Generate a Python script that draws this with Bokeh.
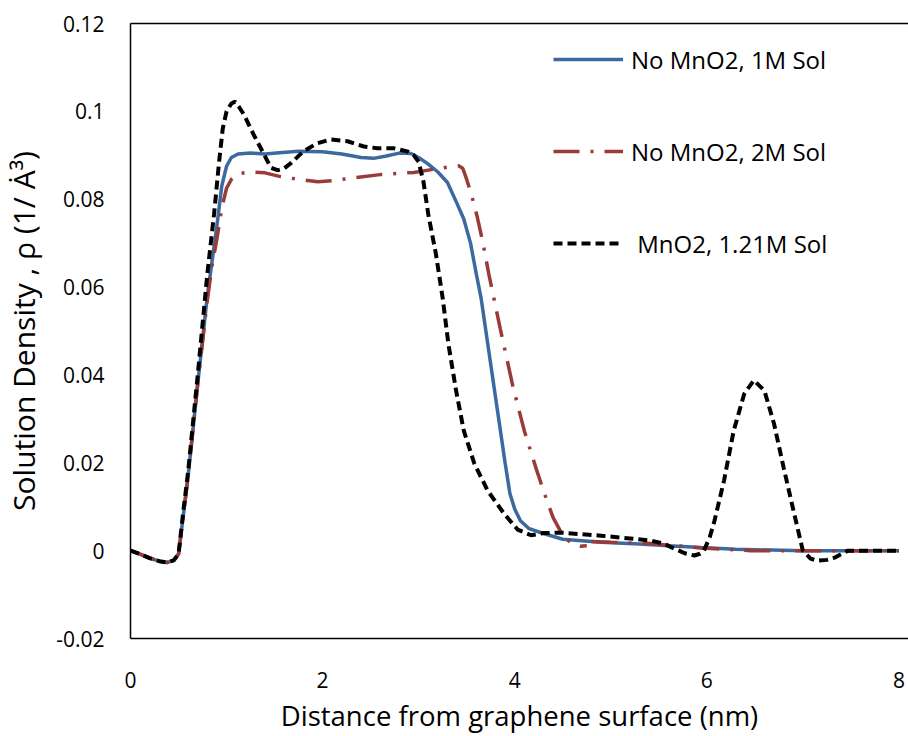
from bokeh.plotting import figure
from bokeh.models import (Range1d, LinearAxis, FixedTicker, Legend, LegendItem)
from bokeh.embed import file_html
from bokeh.resources import INLINE
import numpy as np

# ---------------- data ----------------
x_ticks = [0, 2, 4, 6, 8]
x_tick_labels = ["0", "2", "4", "6", "8"]
y_ticks = [-0.02, 0.0, 0.02, 0.04, 0.06, 0.08, 0.1, 0.12]
y_tick_labels = ["-0.02", "0", "0.02", "0.04", "0.06", "0.08", "0.1", "0.12"]

series_names = ["No MnO2, 1M Sol", "No MnO2, 2M Sol", " MnO2, 1.21M Sol"]

blue_x = [0, 0.1, 0.2, 0.3, 0.38, 0.45, 0.5, 0.55, 0.6, 0.7, 0.8, 0.85, 0.9, 0.95,
          1.0, 1.05, 1.12, 1.25, 1.4, 1.55, 1.75, 2.0, 2.2, 2.4, 2.53, 2.65, 2.8,
          2.92, 3.0, 3.1, 3.2, 3.3, 3.4, 3.47, 3.54, 3.6, 3.65, 3.7, 3.75, 3.8,
          3.85, 3.9, 3.95, 4.0, 4.06, 4.15, 4.3, 4.5, 4.9, 5.3, 5.6, 5.94, 6.3,
          7.0, 7.5, 8.0]
blue_y = [0, -0.0008, -0.0017, -0.0024, -0.0027, -0.0022, -0.0008, 0.008, 0.017,
          0.038, 0.058, 0.066, 0.074, 0.083, 0.0875, 0.0895, 0.0903, 0.0905,
          0.0903, 0.0906, 0.0909, 0.0908, 0.0903, 0.0895, 0.0893, 0.0898, 0.0905,
          0.0904, 0.0895, 0.088, 0.0862, 0.0838, 0.079, 0.0755, 0.070, 0.063,
          0.0575, 0.050, 0.0425, 0.035, 0.0275, 0.020, 0.013, 0.0095, 0.0068,
          0.005, 0.0039, 0.0026, 0.0019, 0.0015, 0.0011, 0.0007, 0.0003, 0.0,
          0.0, 0.0]

red_x = [0, 0.1, 0.2, 0.3, 0.38, 0.45, 0.5, 0.55, 0.6, 0.7, 0.8, 0.85, 0.9, 0.95,
         1.0, 1.05, 1.12, 1.25, 1.4, 1.55, 1.75, 1.95, 2.1, 2.3, 2.6, 2.95, 3.15,
         3.3, 3.42, 3.46, 3.5, 3.55, 3.61, 3.67, 3.73, 3.85, 3.98, 4.1, 4.22, 4.3,
         4.4, 4.5, 4.6, 4.68, 4.75, np.nan, 4.8, 5.0, 5.42, 5.94, 6.46, 7.0, 8.0]
red_y = [0, -0.0008, -0.0017, -0.0024, -0.0027, -0.0022, -0.0008, 0.008, 0.017,
         0.038, 0.057, 0.065, 0.071, 0.078, 0.0825, 0.0845, 0.0858, 0.0862, 0.086,
         0.0852, 0.0845, 0.0840, 0.0842, 0.0848, 0.0856, 0.0861, 0.0868, 0.0873,
         0.0876, 0.087, 0.0845, 0.081, 0.076, 0.070, 0.063, 0.0505, 0.0375,
         0.0273, 0.0189, 0.0136, 0.0075, 0.0035, 0.0015, 0.0010, 0.0011, np.nan,
         0.0021, 0.0019, 0.0016, 0.0006, 0.0, 0.0, 0.0]

black_x = [0, 0.1, 0.2, 0.3, 0.38, 0.45, 0.5, 0.55, 0.6, 0.7, 0.8, 0.87, 0.92, 0.96,
           1.0, 1.05, 1.09, 1.13, 1.18, 1.28, 1.39, 1.46, 1.53, 1.6, 1.67, 1.8,
           1.94, 2.08, 2.26, 2.43, 2.57, 2.74, 2.88, 2.95, 3.0, 3.05, 3.1, 3.18,
           3.25, 3.31, 3.39, 3.47, 3.58, 3.72, 3.89, 4.03, 4.17, 4.3, 4.48, 4.9,
           5.42, 5.55, 5.66, 5.77, 5.87, 5.93, 5.97, 6.03, 6.08, 6.18, 6.28, 6.39,
           6.49, 6.6, 6.7, 6.8, 6.91, 7.0, 7.08, 7.15, 7.25, 7.33, 7.47, 8.0]
black_y = [0, -0.0008, -0.0017, -0.0024, -0.0027, -0.0022, -0.0008, 0.009, 0.018,
           0.040, 0.063, 0.0766, 0.088, 0.096, 0.100, 0.1018, 0.1022, 0.101,
           0.0993, 0.0948, 0.0902, 0.0872, 0.0866, 0.0870, 0.0882, 0.0909, 0.0927,
           0.0936, 0.0932, 0.092, 0.0916, 0.0916, 0.0909, 0.0900, 0.0885, 0.084,
           0.0766, 0.0675, 0.0575, 0.047, 0.0364, 0.0273, 0.0198, 0.0136, 0.0084,
           0.0048, 0.0035, 0.004, 0.0041, 0.0034, 0.0023, 0.0016, 0.0005, -0.0006,
           -0.0011, -0.0007, 0.0, 0.003, 0.0068, 0.016, 0.0273, 0.0357, 0.0388,
           0.0364, 0.0289, 0.0189, 0.0084, 0.0, -0.0018, -0.0023, -0.0021, -0.0016,
           0.0, 0.0]

# ---------------- figure ----------------
FONT = "Open Sans"
p = figure(width=908, height=736, output_backend="svg", toolbar_location=None,
           x_range=Range1d(0, 8.1), y_range=Range1d(-0.02, 0.12),
           min_border_left=130, min_border_right=0, min_border_top=23,
           min_border_bottom=97, x_axis_label="Distance from graphene surface (nm)",
           y_axis_label="Solution Density , ρ (1/ Ȧ³)")
p.outline_line_color = None
p.grid.visible = False
p.background_fill_color = "white"
p.border_fill_color = "white"

for ax in (p.xaxis[0], p.yaxis[0]):
    ax.axis_line_color = "black"
    ax.axis_line_width = 1.5
    ax.major_tick_line_color = None
    ax.minor_tick_line_color = None
    ax.major_tick_out = 0
    ax.major_label_text_font = FONT
    ax.major_label_text_font_size = "21px"
    ax.major_label_text_color = "black"
    ax.axis_label_text_font = FONT
    ax.axis_label_text_font_style = "normal"
    ax.axis_label_text_color = "black"

p.xaxis[0].axis_label_text_font_size = "27.5px"
p.yaxis[0].axis_label_text_font_size = "30px"

p.xaxis[0].ticker = FixedTicker(ticks=x_ticks)
p.xaxis[0].major_label_overrides = {t: l for t, l in zip(x_ticks, x_tick_labels)}
p.xaxis[0].major_label_standoff = 33
p.xaxis[0].axis_label_standoff = 6

p.yaxis[0].ticker = FixedTicker(ticks=y_ticks)
p.yaxis[0].major_label_standoff = 26
p.yaxis[0].major_label_overrides = {t: l for t, l in zip(y_ticks, y_tick_labels)}
p.yaxis[0].axis_label_standoff = 9

top = LinearAxis(ticker=FixedTicker(ticks=[]), axis_line_color="black",
                 axis_line_width=1.5, major_tick_line_color=None,
                 minor_tick_line_color=None, major_label_text_font_size="0px",
                 major_label_standoff=0, major_tick_out=0, major_tick_in=0)
p.add_layout(top, "above")

r_blue = p.line(blue_x, blue_y, line_color="#3B6AA0", line_width=3.5)
r_red = p.line(red_x, red_y, line_color="#993B38", line_width=3.5,
               line_dash="26 11 3 11")
r_black = p.line(black_x, black_y, line_color="black", line_width=4,
                 line_dash="9 5")

legend = Legend(items=[LegendItem(label=series_names[0], renderers=[r_blue]),
                       LegendItem(label=series_names[1], renderers=[r_red]),
                       LegendItem(label=series_names[2], renderers=[r_black])],
                location=(423, 378), orientation="vertical",
                border_line_color=None, background_fill_alpha=0,
                padding=0, margin=0, spacing=58, label_height=34,
                glyph_height=34, glyph_width=70, label_standoff=8,
                label_text_font=FONT, label_text_font_size="24px",
                label_text_color="black")
p.add_layout(legend)

open("out.html", "w").write(file_html(p, INLINE))
